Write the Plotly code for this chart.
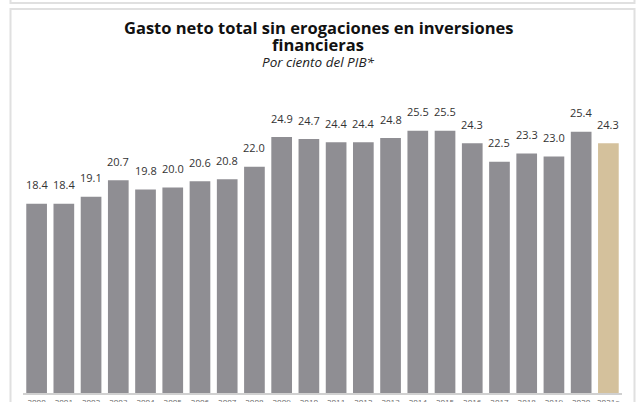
import plotly.graph_objects as go

# data
years = [str(y) for y in range(2000, 2021)] + ["2021e"]
gasto_pib = [18.4, 18.4, 19.1, 20.7, 19.8, 20.0, 20.6, 20.8, 22.0, 24.9, 24.7,
             24.4, 24.4, 24.8, 25.5, 25.5, 24.3, 22.5, 23.3, 23.0, 25.4, 24.3]

title_lines = ["Gasto neto total sin erogaciones en inversiones", "financieras"]
subtitle = "Por ciento del PIB*"

W, H = 639, 402
L, R, T, B = 23, 17, 100, 9
FONT = "Open Sans"
GRAY = "#8f8e93"
TAN = "#d4c19c"

colors = [GRAY] * (len(years) - 1) + [TAN]


def px_x(px):
    return (px - L) / (W - L - R)


def px_y(py):
    return (H - B - py) / (H - T - B)


fig = go.Figure()
fig.add_trace(go.Bar(
    x=years,
    y=gasto_pib,
    marker=dict(color=colors, line=dict(width=0)),
    hoverinfo="x+y",
))

# value labels above the bars (category axis -> use the category index)
for i, v in enumerate(gasto_pib):
    fig.add_annotation(x=i, y=v, text=f"{v:.1f}", showarrow=False,
                       yanchor="middle", yshift=19,
                       font=dict(family=FONT, size=11, color="#333333"))

# title block, one annotation per line to keep the tight line spacing
for line, yc in zip(title_lines, [27, 44]):
    fig.add_annotation(xref="paper", yref="paper", x=px_x(318), y=px_y(yc),
                       text=f"<b>{line}</b>", showarrow=False,
                       xanchor="center", yanchor="middle",
                       font=dict(family=FONT, size=16.5, color="#111111"))
fig.add_annotation(xref="paper", yref="paper", x=px_x(318), y=px_y(62),
                   text=f"<i>{subtitle}</i>", showarrow=False,
                   xanchor="center", yanchor="middle",
                   font=dict(family=FONT, size=13.5, color="#222222"))

# frames of the surrounding panels
box = dict(type="rect", xref="paper", yref="paper", layer="below",
           line=dict(color="#e0e0e0", width=2), fillcolor="rgba(0,0,0,0)")
fig.add_shape(**box, x0=px_x(10.5), x1=px_x(634.5), y0=px_y(-20), y1=px_y(3))
fig.add_shape(**box, x0=px_x(10.5), x1=px_x(634.5), y0=px_y(420), y1=px_y(9))

fig.update_xaxes(type="category", range=[-0.5, len(years) - 0.5],
                 automargin=False,
                 showline=True, linecolor="#d0d0d0", linewidth=2,
                 ticks="", showgrid=False,
                 tickfont=dict(family=FONT, size=8, color="#666666"))
fig.update_yaxes(range=[0, 28.5], visible=False, showgrid=False)

fig.update_layout(
    width=W, height=H,
    margin=dict(l=L, r=R, t=T, b=B),
    bargap=0.24,
    showlegend=False,
    plot_bgcolor="white",
    paper_bgcolor="white",
)

# drop the default body margin so the figure sits at the page corner
fig.write_html("out.html", config={"displayModeBar": False},
               post_script="document.body.style.margin = '0';")
